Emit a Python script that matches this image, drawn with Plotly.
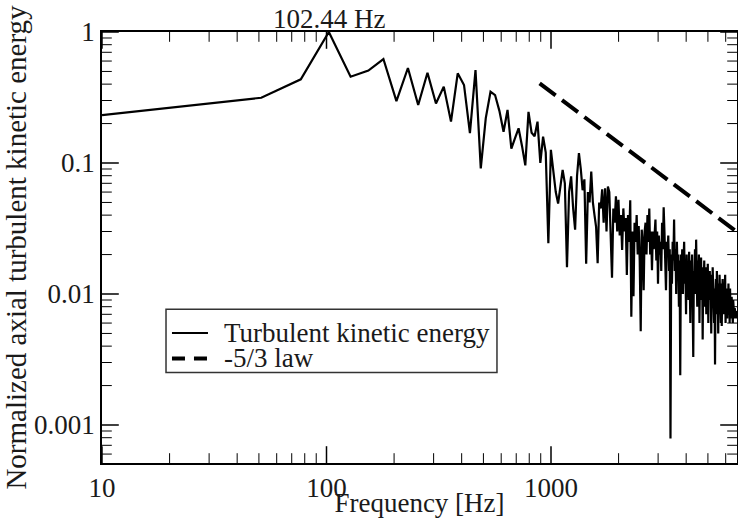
import plotly.graph_objects as go

# Spectrum of the normalized axial turbulent kinetic energy
DF = 25.61                      # FFT bin width [Hz]
first_freq = [10.0]
first_tke = [0.232]
bins = list(range(2, 267))      # bin index n -> f = n * DF

tke = [
    0.315, 0.435, 1.0, 0.456, 0.507, 0.622, 0.297, 0.531,
    0.277, 0.489, 0.285, 0.383, 0.207, 0.484, 0.394, 0.169, 0.513, 0.091,
    0.22, 0.35, 0.33, 0.25, 0.173, 0.254, 0.129, 0.155, 0.184, 0.135,
    0.096, 0.246, 0.17, 0.16, 0.207, 0.10, 0.159, 0.12, 0.0244, 0.126,
    0.091, 0.06, 0.049, 0.07, 0.0885, 0.070, 0.016, 0.06, 0.079, 0.045,
    0.031, 0.08, 0.119, 0.09, 0.062, 0.075, 0.017, 0.06, 0.05, 0.086,
    0.05, 0.04, 0.0326, 0.0172, 0.05, 0.045, 0.063, 0.035, 0.064, 0.03,
    0.066, 0.06, 0.03, 0.0133, 0.045, 0.035, 0.0556, 0.03, 0.0524, 0.028,
    0.04, 0.0217, 0.045, 0.03, 0.038, 0.014, 0.04, 0.025, 0.052, 0.0067,
    0.03, 0.0096, 0.035, 0.025, 0.04, 0.02, 0.033, 0.018, 0.0052, 0.031,
    0.025, 0.0107, 0.03, 0.035, 0.02, 0.04, 0.025, 0.045, 0.02, 0.03,
    0.0152, 0.03, 0.022, 0.035, 0.037, 0.018, 0.03, 0.012, 0.028, 0.02,
    0.025, 0.015, 0.035, 0.022, 0.046, 0.03, 0.018, 0.0107, 0.025, 0.02,
    0.028, 0.015, 0.022, 0.00079, 0.02, 0.012, 0.025, 0.018, 0.037, 0.015,
    0.022, 0.01, 0.025, 0.015, 0.02, 0.008, 0.018, 0.0024, 0.02, 0.012,
    0.022, 0.01, 0.018, 0.025, 0.012, 0.016, 0.007, 0.02, 0.011, 0.017,
    0.009, 0.021, 0.013, 0.006, 0.018, 0.012, 0.02, 0.01, 0.0033, 0.015,
    0.012, 0.022, 0.01, 0.026, 0.014, 0.008, 0.018, 0.011, 0.02, 0.006,
    0.015, 0.01, 0.019, 0.009, 0.016, 0.0045, 0.014, 0.011, 0.018, 0.008,
    0.013, 0.016, 0.007, 0.014, 0.01, 0.017, 0.006, 0.012, 0.009, 0.015,
    0.01, 0.014, 0.005, 0.012, 0.008, 0.016, 0.009, 0.012, 0.006, 0.011,
    0.0029, 0.01, 0.013, 0.007, 0.015, 0.009, 0.011, 0.005, 0.012, 0.008,
    0.014, 0.009, 0.011, 0.006, 0.012, 0.0057, 0.01, 0.013, 0.008, 0.011,
    0.007, 0.012, 0.009, 0.014, 0.006, 0.01, 0.008, 0.011, 0.0065, 0.01,
    0.008, 0.012, 0.007, 0.0095, 0.006, 0.011, 0.0075, 0.009, 0.0065, 0.0095,
    0.007, 0.0085, 0.006, 0.009, 0.0072, 0.008, 0.0065, 0.0078, 0.007, 0.0075,
    0.0068, 0.0072, 0.0065, 0.0074, 0.0069, 0.0072, 0.007,
]
assert len(tke) == len(bins)

freq = first_freq + [n * DF for n in bins]
energy = first_tke + tke

# Reference slope line
law_freq = [890.0, 6714.0]
law_energy = [0.406, 0.0299]

peak_freq = 102.44
peak_label = "102.44 Hz"
legend_labels = ["Turbulent kinetic energy", "-5/3 law"]

x_ticks = [10, 100, 1000]
y_ticks = [0.001, 0.01, 0.1, 1]
y_ticktext = ["0.001", "0.01", "0.1", "1"]
minor_mult = [2, 3, 4, 5, 6, 7, 8, 9]

X_RANGE = [1, 3.8285]
Y_RANGE = [-3.29, 0.0]
x_lo, x_hi = 10 ** X_RANGE[0], 10 ** X_RANGE[1]
y_lo, y_hi = 10 ** Y_RANGE[0], 10 ** Y_RANGE[1]

x_minor = [m * 10 ** k for k in range(1, 4) for m in minor_mult if x_lo < m * 10 ** k < x_hi]
y_minor = [m * 10 ** k for k in range(-4, 0) for m in minor_mult if y_lo < m * 10 ** k < y_hi]

FONT = "Liberation Serif"
INK = "#1a1a1a"
FS = 27
TEXT = dict(family=FONT, size=FS, color=INK)

fig = go.Figure()
fig.add_trace(go.Scatter(
    x=freq, y=energy, mode="lines", name=legend_labels[0],
    line=dict(color="black", width=2.2),
))
fig.add_trace(go.Scatter(
    x=law_freq, y=law_energy, mode="lines", name=legend_labels[1],
    line=dict(color="black", width=4, dash="20px,8px"),
))


def tick_marks(xs, ys, symbol, length, width):
    # centred line markers on the frame; clipping keeps only the inner half
    fig.add_trace(go.Scatter(
        x=xs, y=ys, mode="markers", cliponaxis=True, hoverinfo="skip",
        marker=dict(symbol=symbol, size=2 * length,
                    line=dict(color="black", width=width)),
    ))


for edge in (y_lo, y_hi):
    tick_marks(x_ticks, [edge] * len(x_ticks), "line-ns", 12, 1.5)
    tick_marks(x_minor, [edge] * len(x_minor), "line-ns", 7, 1)
for edge in (x_lo, x_hi):
    tick_marks([edge] * len(y_ticks), y_ticks, "line-ew", 12, 1.5)
    tick_marks([edge] * len(y_minor), y_minor, "line-ew", 7, 1)

fig.add_annotation(
    x=2.0104834, xref="x", y=1, yref="paper",  # log10(102.44)
    text=peak_label, showarrow=False, yanchor="bottom", yshift=-4, font=TEXT,
)

# Boxed key in the lower-left part of the axes
fig.add_shape(type="rect", xref="paper", yref="paper",
              x0=0.1008, x1=0.6220, y0=0.210, y1=0.357,
              line=dict(color="#333", width=1.5), fillcolor="white")
rows_y = [0.3015, 0.2425]
fig.add_shape(type="line", xref="paper", yref="paper",
              x0=0.1102, x1=0.1669, y0=rows_y[0], y1=rows_y[0],
              line=dict(color="black", width=2))
fig.add_shape(type="line", xref="paper", yref="paper",
              x0=0.1102, x1=0.1669, y0=rows_y[1], y1=rows_y[1],
              line=dict(color="black", width=4, dash="13px,9px"))
for label, yy in zip(legend_labels, rows_y):
    fig.add_annotation(
        x=0.1890, y=yy, xref="paper", yref="paper", xanchor="left", yanchor="middle",
        text=label, showarrow=False, font=TEXT,
    )

fig.update_xaxes(
    type="log", range=X_RANGE, tickvals=x_ticks, showgrid=False, automargin=False,
    ticks="", showline=True, linecolor="black", linewidth=1.5, mirror=True,
    tickfont=TEXT, title=dict(text="Frequency [Hz]", font=TEXT, standoff=3),
)
fig.update_yaxes(
    type="log", range=Y_RANGE, tickvals=y_ticks, ticktext=y_ticktext,
    showgrid=False, automargin=False,
    ticks="", showline=True, linecolor="black", linewidth=1.5, mirror=True,
    tickfont=TEXT,
    title=dict(text="Normalized axial turbulent kinetic energy",
               font=dict(family=FONT, size=29, color=INK), standoff=0),
)

fig.update_layout(
    width=738, height=518,
    margin=dict(l=102, r=1, t=32, b=55),
    plot_bgcolor="white",
    showlegend=False,
)

fig.write_html("out.html")
